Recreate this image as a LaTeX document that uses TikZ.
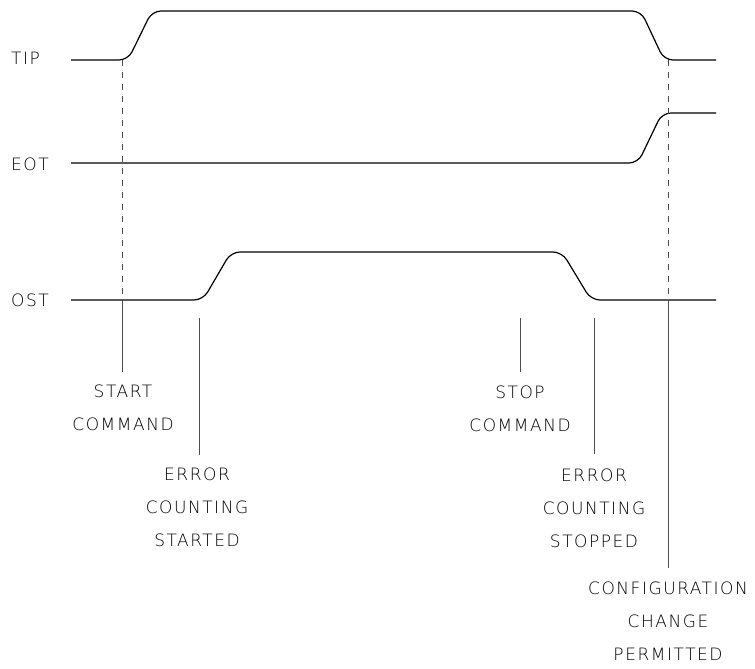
\documentclass[tikz,border=0pt]{standalone}
\usepackage{fontspec}
\newfontfamily\lab[LetterSpace=9]{DejaVu Sans ExtraLight}
\begin{document}
\begin{tikzpicture}[x=1pt,y=-1pt,
  signal/.style={line width=1.2pt,black,rounded corners=9pt},
  guide/.style={line width=0.6pt,black!70,dash pattern=on 6pt off 6pt},
  marker/.style={line width=0.6pt,black!70},
  lbl/.style={font={\lab\fontsize{17}{33}\selectfont},align=center,inner sep=0pt,anchor=north},
  sig/.style={font={\lab\fontsize{17}{20}\selectfont},inner sep=0pt,anchor=west}]
\useasboundingbox (0,0) rectangle (755,669);
% signal names
\node[sig] (tip) at (11,58) {TIP};
\node[sig] (eot) at (11,164) {EOT};
\node[sig] (ost) at (11,300) {OST};
% waveforms
\draw[signal] (71,60) -- (128,60) -- (152,11) -- (641,11) -- (664,60) -- (716,60);
\draw[signal] (71,163) -- (638,163) -- (662,113) -- (716,113);
\draw[signal] (71,300) -- (203,300) -- (231,252) -- (562,252) -- (591,300) -- (716,300);
% labels
\node[lbl] (start) at (123,385) {START\\COMMAND};
\node[lbl] (ecstart) at (197,468) {ERROR\\COUNTING\\STARTED};
\node[lbl] (stop) at (520,386) {STOP\\COMMAND};
\node[lbl] (ecstop) at (594,469) {ERROR\\COUNTING\\STOPPED};
\node[lbl] (config) at (668,582) {CONFIGURATION\\CHANGE\\PERMITTED};
% coordinates
\coordinate (s1) at (122,60);
\coordinate (s2) at (122,300);
\coordinate (s3) at (122,372);
\coordinate (e1) at (199,318);
\coordinate (e2) at (199,455);
\coordinate (p1) at (520,318);
\coordinate (p2) at (520,372);
\coordinate (q1) at (594,318);
\coordinate (q2) at (594,454);
\coordinate (c1) at (668,60);
\coordinate (c2) at (668,300);
\coordinate (c3) at (668,568);
% markers
\draw[guide] (s1) -- (s2);
\draw[marker] (s2) -- (s3);
\draw[marker] (e1) -- (e2);
\draw[marker] (p1) -- (p2);
\draw[marker] (q1) -- (q2);
\draw[guide] (c1) -- (c2);
\draw[marker] (c2) -- (c3);
\end{tikzpicture}
\end{document}
